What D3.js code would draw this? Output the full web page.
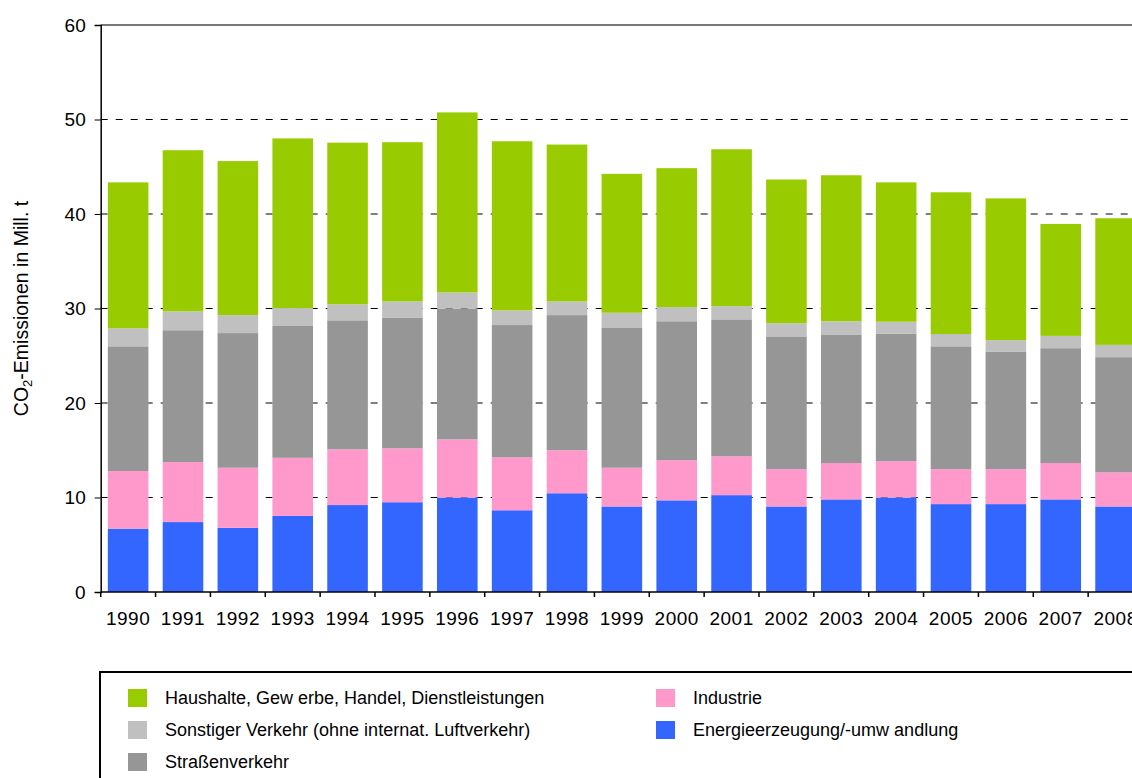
<!DOCTYPE html>
<html>
<head>
<meta charset="utf-8">
<script src="https://cdn.jsdelivr.net/npm/d3@7"></script>
<style>
  body { margin: 0; background: #fff; }
  svg { display: block; font-family: Arial, "Liberation Sans", sans-serif; }
</style>
</head>
<body>
<div id="chart"></div>
<script>
const years = ["1990", "1991", "1992", "1993", "1994", "1995", "1996", "1997", "1998", "1999",
  "2000", "2001", "2002", "2003", "2004", "2005", "2006", "2007", "2008"];

// values in Mill. t (bottom to top of each bar)
const energie   = [6.7, 7.4, 6.8, 8.05, 9.2, 9.5, 10.0, 8.65, 10.45, 9.05, 9.7, 10.25, 9.05, 9.8, 10.0, 9.3, 9.3, 9.8, 9.05];
const industrie = [6.1, 6.35, 6.35, 6.15, 5.9, 5.7, 6.15, 5.6, 4.55, 4.1, 4.25, 4.1, 3.95, 3.85, 3.85, 3.7, 3.7, 3.85, 3.6];
const strasse   = [13.2, 13.95, 14.25, 13.95, 13.65, 13.85, 13.85, 14.0, 14.3, 14.85, 14.7, 14.5, 14.05, 13.55, 13.5, 13.0, 12.45, 12.15, 12.2];
const sonstiger = [1.9, 2.0, 1.9, 1.9, 1.7, 1.7, 1.7, 1.55, 1.45, 1.55, 1.5, 1.4, 1.4, 1.45, 1.25, 1.3, 1.2, 1.3, 1.3];
const haushalte = [15.45, 17.05, 16.3, 17.95, 17.1, 16.85, 19.05, 17.9, 16.6, 14.7, 14.7, 16.6, 15.2, 15.45, 14.75, 15.0, 15.0, 11.85, 13.4];

const yTicks = [0, 10, 20, 30, 40, 50, 60];

const seriesKeys = ["energie", "industrie", "strasse", "sonstiger", "haushalte"];
const seriesLabels = {
  haushalte: "Haushalte, Gew erbe, Handel, Dienstleistungen",
  sonstiger: "Sonstiger Verkehr (ohne internat. Luftverkehr)",
  strasse: "Straßenverkehr",
  industrie: "Industrie",
  energie: "Energieerzeugung/-umw andlung"
};
const colors = {
  haushalte: "#99cc00",
  sonstiger: "#c0c0c0",
  strasse: "#969696",
  industrie: "#ff99cc",
  energie: "#3366ff"
};

const data = years.map((yr, i) => ({
  year: yr,
  energie: energie[i],
  industrie: industrie[i],
  strasse: strasse[i],
  sonstiger: sonstiger[i],
  haushalte: haushalte[i]
}));

var w = 1132;
var h = 778;

var svg = d3.select("#chart").append("svg")
  .attr("width", w)
  .attr("height", h);

// plot area (runs past the right edge, as in the original)
var plotLeft = 100.7, plotRight = 1143, plotTop = 25, plotBottom = 592;

var x = d3.scaleBand()
  .domain(years)
  .range([plotLeft, plotRight])
  .paddingInner(0.26)
  .paddingOuter(0.13);

var xEdge = d3.scaleBand()
  .domain(years)
  .range([plotLeft, plotRight]);

var y = d3.scaleLinear()
  .domain([0, 60])
  .range([plotBottom, plotTop]);

// dashed grid lines
svg.append("g")
  .selectAll("line")
  .data(yTicks.filter(d => d > 0 && d < 60))
  .join("line")
  .attr("x1", plotLeft)
  .attr("x2", w)
  .attr("y1", d => y(d))
  .attr("y2", d => y(d))
  .attr("stroke", "#000")
  .attr("stroke-width", 1)
  .attr("stroke-dasharray", "7,8");

// top border at 60
svg.append("line")
  .attr("x1", plotLeft)
  .attr("x2", w)
  .attr("y1", y(60))
  .attr("y2", y(60))
  .attr("stroke", "#777")
  .attr("stroke-width", 2);

// stacked bars
var stacked = d3.stack().keys(seriesKeys)(data);

svg.append("g")
  .selectAll("g")
  .data(stacked)
  .join("g")
  .attr("fill", d => colors[d.key])
  .selectAll("rect")
  .data(d => d)
  .join("rect")
  .attr("x", d => x(d.data.year))
  .attr("width", x.bandwidth())
  .attr("y", d => y(d[1]))
  .attr("height", d => y(d[0]) - y(d[1]));

// y axis
var yAxis = svg.append("g")
  .attr("transform", "translate(" + plotLeft + ",0)")
  .call(d3.axisLeft(y).tickValues(yTicks).tickSize(6).tickPadding(9));
yAxis.select(".domain").attr("stroke", "#000").attr("stroke-width", 1.5);
yAxis.selectAll("text").attr("font-size", 19).attr("fill", "#000")
  .attr("font-family", "Arial, 'Liberation Sans', sans-serif");

// x axis: labels centred on bars, ticks on the category edges
var xAxis = svg.append("g")
  .attr("transform", "translate(0," + plotBottom + ")")
  .call(d3.axisBottom(x).tickSize(0).tickPadding(20));
xAxis.select(".domain").attr("stroke", "#000").attr("stroke-width", 1.5)
  .attr("d", "M" + plotLeft + ",0H" + plotRight);
xAxis.selectAll("text").attr("font-size", 19).attr("fill", "#000")
  .attr("letter-spacing", "0.5px")
  .attr("font-family", "Arial, 'Liberation Sans', sans-serif");

svg.append("g")
  .selectAll("line")
  .data(years)
  .join("line")
  .attr("x1", d => xEdge(d))
  .attr("x2", d => xEdge(d))
  .attr("y1", plotBottom)
  .attr("y2", plotBottom + 5)
  .attr("stroke", "#000")
  .attr("stroke-width", 1.5);

// y axis title
var title = svg.append("text")
  .attr("transform", "translate(28," + ((plotTop + plotBottom) / 2) + ") rotate(-90)")
  .attr("text-anchor", "middle")
  .attr("font-size", 19.5)
  .attr("fill", "#000");
title.append("tspan").text("CO");
title.append("tspan").attr("font-size", 13).attr("dy", 4).text("2");
title.append("tspan").attr("dy", -4).text("-Emissionen in Mill. t");

// legend
svg.append("rect")
  .attr("x", 100)
  .attr("y", 672)
  .attr("width", 1100)
  .attr("height", 200)
  .attr("fill", "none")
  .attr("stroke", "#000")
  .attr("stroke-width", 2);

const legendItems = [
  { key: "haushalte", col: 0, row: 0 },
  { key: "sonstiger", col: 0, row: 1 },
  { key: "strasse", col: 0, row: 2 },
  { key: "industrie", col: 1, row: 0 },
  { key: "energie", col: 1, row: 1 }
];
const colX = [128, 656];

var legend = svg.append("g")
  .selectAll("g")
  .data(legendItems)
  .join("g")
  .attr("transform", d => "translate(" + colX[d.col] + "," + (698 + d.row * 32) + ")");

legend.append("rect")
  .attr("x", 0)
  .attr("y", -9)
  .attr("width", 19)
  .attr("height", 18)
  .attr("fill", d => colors[d.key]);

legend.append("text")
  .attr("x", 37)
  .attr("dy", "0.35em")
  .attr("font-size", 18)
  .attr("fill", "#000")
  .text(d => seriesLabels[d.key]);
</script>
</body>
</html>
